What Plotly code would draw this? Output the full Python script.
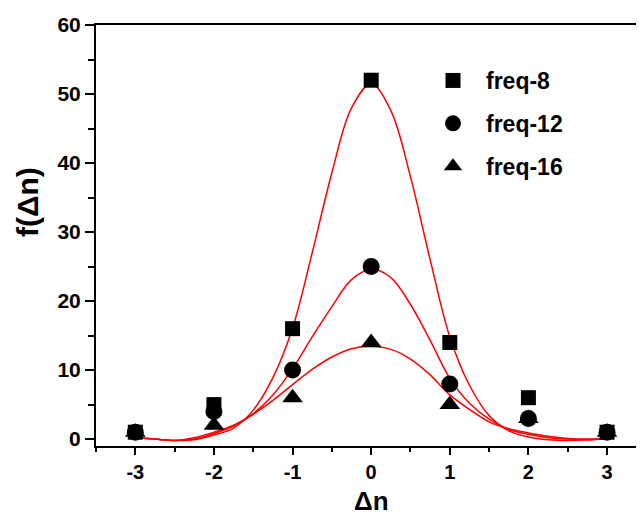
import plotly.graph_objects as go

# Measured data
dn = [-3, -2, -1, 0, 1, 2, 3]
freq8 = [1, 5, 16, 52, 14, 6, 1]
freq12 = [1, 4, 10, 25, 8, 3, 1]
freq16 = [1, 2, 6, 14, 5, 3, 1]

# Fitted curves
fit_x = [-3, -2.75, -2.5, -2.25, -2, -1.75, -1.5, -1.25, -1, -0.75, -0.5, -0.25, 0,
         0.25, 0.5, 0.75, 1, 1.25, 1.5, 1.75, 2, 2.25, 2.5, 2.75, 3]
fit8 = [0.2, 0.0, -0.2, -0.1, 0.6, 1.6, 4.2, 8.9, 16.1, 27.0, 38.6, 48.0, 51.5,
        47.6, 38.0, 26.0, 14.8, 7.8, 3.4, 1.2, 0.3, -0.1, -0.2, -0.1, 0.1]
fit12 = [0.2, 0.0, -0.2, 0.0, 0.8, 1.9, 3.7, 6.4, 10.2, 14.8, 19.2, 23.1, 24.6,
         23.4, 19.5, 14.3, 8.8, 5.2, 2.9, 1.4, 0.7, 0.2, 0.0, -0.1, 0.1]
fit16 = [0.2, 0.0, -0.2, 0.2, 1.0, 2.0, 3.6, 5.6, 7.9, 10.1, 11.9, 13.1, 13.4,
         13.0, 11.6, 9.3, 6.4, 4.3, 2.5, 1.5, 0.9, 0.4, 0.1, 0.0, 0.1]

x_ticks = [-3, -2, -1, 0, 1, 2, 3]
y_ticks = [0, 10, 20, 30, 40, 50, 60]

FONT = "Liberation Sans, Arial, sans-serif"

fig = go.Figure()

for fy in (fit8, fit12, fit16):
    fig.add_trace(go.Scatter(x=fit_x, y=fy, mode="lines", showlegend=False,
                             line=dict(color="red", width=1.5, shape="spline"),
                             hoverinfo="skip"))

series = [("freq-8", freq8, "square", 15),
          ("freq-12", freq12, "circle", 17),
          ("freq-16", freq16, "triangle-up", 18)]
for name, vals, sym, sz in series:
    fig.add_trace(go.Scatter(x=dn, y=vals, mode="markers", name=name,
                             legendgroup=name,
                             marker=dict(symbol=sym, size=sz, color="black",
                                         line=dict(width=0))))

# page has an 8px body margin: work in page pixels, convert to figure pixels
OFF = 8
W, H = 644 - OFF, 518 - OFF
PL, PR, PT, PB = 96 - OFF, 644 - OFF, 25 - OFF, 446 - OFF
pw, ph = PR - PL, PB - PT


def px(xp):
    return (xp - OFF - PL) / pw


def py(yp):
    return 1 - (yp - OFF - PT) / ph


fig.update_layout(
    template="none",
    width=W, height=H,
    margin=dict(l=PL, r=W - PR, t=PT, b=H - PB, autoexpand=False),
    paper_bgcolor="white", plot_bgcolor="white",
    font=dict(family=FONT, color="black", weight="bold"),
    showlegend=True,
    legend=dict(x=px(420), y=py(59),
                xanchor="left", yanchor="top",
                bgcolor="rgba(0,0,0,0)", borderwidth=0,
                font=dict(size=23, family=FONT, weight="bold"),
                itemwidth=56, tracegroupgap=10),
    xaxis=dict(range=[-3.5, 3.47], tickmode="array", tickvals=x_ticks,
               ticktext=[str(v) for v in x_ticks], automargin=False,
               ticks="outside", ticklen=7, tickwidth=2, tickcolor="black",
               minor=dict(dtick=0.5, ticks="outside", ticklen=4, tickwidth=2,
                          tickcolor="black"),
               showline=True, linewidth=2, linecolor="black", mirror=True,
               showgrid=False, zeroline=False,
               tickfont=dict(size=20, family=FONT, weight="bold")),
    yaxis=dict(range=[-1, 60], tickmode="array", tickvals=y_ticks,
               ticktext=[str(v) for v in y_ticks], automargin=False,
               ticks="outside", ticklen=9, tickwidth=2, tickcolor="black",
               minor=dict(dtick=5, ticks="outside", ticklen=6, tickwidth=2,
                          tickcolor="black"),
               showline=True, linewidth=2, linecolor="black",
               showgrid=False, zeroline=False,
               tickfont=dict(size=21, family=FONT, weight="bold")),
    annotations=[
        dict(text="f(Δn)", xref="paper", yref="paper",
             x=px(27), y=py(202),
             xanchor="center", yanchor="middle", textangle=-90, showarrow=False,
             font=dict(size=30, family=FONT, weight="bold")),
        dict(text="Δn", xref="paper", yref="paper", x=px(371), y=py(501),
             xanchor="center", yanchor="middle", showarrow=False, borderpad=0,
             font=dict(size=26, family=FONT, weight="bold")),
    ],
)

fig.write_html("out.html")
